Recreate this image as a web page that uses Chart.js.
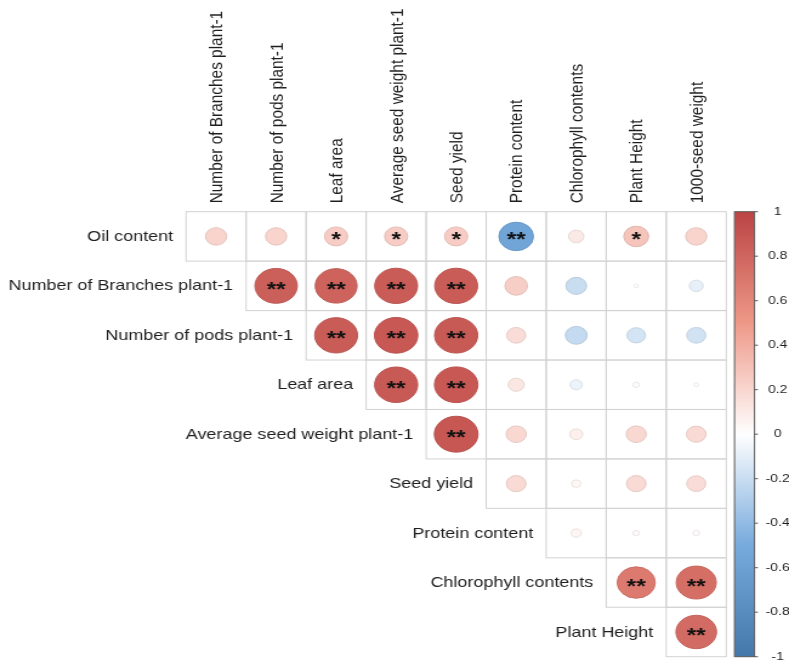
<!DOCTYPE html>
<html>
<head>
<meta charset="utf-8">
<title>Correlation matrix</title>
<style>
  html, body { margin: 0; padding: 0; background: #ffffff; overflow: hidden; }
  #wrap { width: 789px; height: 661px; overflow: hidden; }
  /* the plot is laid out with square cells, then widened to the page width */
  #c { display: block; transform-origin: 0 0; transform: scaleX(1.21385); }
</style>
<script src="https://cdn.jsdelivr.net/npm/chart.js@4/dist/chart.umd.min.js"></script>
</head>
<body>
<div id="wrap"><canvas id="c" width="650" height="682"></canvas></div>
<script>
// Row variables (top to bottom)
const rowLabels = [
  'Oil content',
  'Number of Branches plant-1',
  'Number of pods plant-1',
  'Leaf area',
  'Average seed weight plant-1',
  'Seed yield',
  'Protein content',
  'Chlorophyll contents',
  'Plant Height'
];

// Column variables (left to right)
const colLabels = [
  'Number of Branches plant-1',
  'Number of pods plant-1',
  'Leaf area',
  'Average seed weight plant-1',
  'Seed yield',
  'Protein content',
  'Chlorophyll contents',
  'Plant Height',
  '1000-seed weight'
];

// Pearson r, upper triangle: row i holds the columns i..8
const rOil        = [0.21, 0.21, 0.25, 0.25, 0.25, -0.56, 0.11, 0.29, 0.21];
const rBranches   = [0.84, 0.82, 0.86, 0.86, 0.24, -0.20, 0.01, -0.09];
const rPods       = [0.86, 0.88, 0.87, 0.17, -0.22, -0.16, -0.17];
const rLeafArea   = [0.87, 0.88, 0.12, -0.07, 0.02, 0.01];
const rSeedWeight = [0.89, 0.19, 0.08, 0.19, 0.18];
const rSeedYield  = [0.18, 0.04, 0.18, 0.17];
const rProtein    = [0.05, 0.02, 0.02];
const rChloro     = [0.68, 0.75];
const rHeight     = [0.77];

// Significance marks (* p<0.05, ** p<0.01), same layout as the r values
const sOil        = ['', '', '*', '*', '*', '**', '', '*', ''];
const sBranches   = ['**', '**', '**', '**', '', '', '', ''];
const sPods       = ['**', '**', '**', '', '', '', ''];
const sLeafArea   = ['**', '**', '', '', '', ''];
const sSeedWeight = ['**', '', '', '', ''];
const sSeedYield  = ['', '', '', ''];
const sProtein    = ['', '', ''];
const sChloro     = ['**', '**'];
const sHeight     = ['**'];

const rRows = [rOil, rBranches, rPods, rLeafArea, rSeedWeight, rSeedYield, rProtein, rChloro, rHeight];
const sRows = [sOil, sBranches, sPods, sLeafArea, sSeedWeight, sSeedYield, sProtein, sChloro, sHeight];

// Colour key
const legendTicks  = [1, 0.8, 0.6, 0.4, 0.2, 0, -0.2, -0.4, -0.6, -0.8, -1];
const legendLabels = ['1', '0.8', '0.6', '0.4', '0.2', '0', '-0.2', '-0.4', '-0.6', '-0.8', '-1'];
const paletteStops = [-1, -0.5, 0, 0.5, 1];
const paletteHex   = ['#4477AA', '#77AADD', '#FFFFFF', '#EE9988', '#BB4444'];

const FONT = "'Liberation Sans', Arial, Helvetica, sans-serif";

function hexRgb(h) {
  return [parseInt(h.slice(1, 3), 16), parseInt(h.slice(3, 5), 16), parseInt(h.slice(5, 7), 16)];
}
function rgbFor(v) {
  const t = Math.max(-1, Math.min(1, v));
  for (let k = 0; k < paletteStops.length - 1; k++) {
    if (t <= paletteStops[k + 1]) {
      const f = (t - paletteStops[k]) / (paletteStops[k + 1] - paletteStops[k]);
      const a = hexRgb(paletteHex[k]), b = hexRgb(paletteHex[k + 1]);
      return a.map((c, n) => c + (b[n] - c) * f);
    }
  }
  return hexRgb(paletteHex[paletteHex.length - 1]);
}
function colorFor(v, shade) {
  const c = rgbFor(v).map(n => Math.round(n * (shade || 1)));
  return 'rgb(' + c[0] + ',' + c[1] + ',' + c[2] + ')';
}

// One point per matrix cell
const points = [];
rRows.forEach((row, i) => {
  row.forEach((v, k) => {
    points.push({ x: i + k, y: i, v: v, s: sRows[i][k] });
  });
});

function cellSize(chart) {
  const y = chart.scales && chart.scales.y;
  if (!y) return 49.44;
  const d = Math.abs(y.getPixelForValue(1) - y.getPixelForValue(0));
  return isFinite(d) && d > 0 ? d : 49.44;
}
function pointValue(c) {
  const p = c && c.raw ? c.raw : points[c.dataIndex];
  return p ? p.v : 0;
}
function pointRadius(c) {
  return 0.385 * Math.sqrt(Math.abs(pointValue(c))) * cellSize(c.chart);
}

const decor = {
  id: 'corrDecor',
  beforeDatasetsDraw(chart) {
    const { ctx, chartArea, scales: { x, y, cb } } = chart;
    const hw = (x.getPixelForValue(1) - x.getPixelForValue(0)) / 2;
    const hh = cellSize(chart) / 2;
    ctx.save();

    // cell borders
    ctx.strokeStyle = '#d2d2d2';
    ctx.lineWidth = 1;
    rowLabels.forEach((_, i) => {
      for (let j = i; j < colLabels.length; j++) {
        const cx = x.getPixelForValue(j), cy = y.getPixelForValue(i);
        ctx.strokeRect(cx - hw, cy - hh, hw * 2, hh * 2);
      }
    });

    // row names, right-aligned against each row's first cell
    ctx.fillStyle = '#1e1e1e';
    ctx.font = '14.8px ' + FONT;
    ctx.textAlign = 'right';
    ctx.textBaseline = 'middle';
    rowLabels.forEach((t, i) => {
      ctx.fillText(t, x.getPixelForValue(i) - hw - 10.7, y.getPixelForValue(i) + 0.5);
    });

    // column names, vertical above the grid
    ctx.font = '15.4px ' + FONT;
    ctx.textAlign = 'left';
    colLabels.forEach((t, j) => {
      ctx.save();
      ctx.translate(x.getPixelForValue(j) + 1, chartArea.top - 8.4);
      ctx.rotate(-Math.PI / 2);
      ctx.fillText(t, 0, 0);
      ctx.restore();
    });

    // colour bar
    const barL = chartArea.right + 6.8, barW = 16.5;
    const top = cb.getPixelForValue(1), bot = cb.getPixelForValue(-1);
    const g = ctx.createLinearGradient(0, top, 0, bot);
    paletteStops.forEach((s, k) => g.addColorStop((1 - s) / 2, paletteHex[k]));
    ctx.fillStyle = g;
    ctx.fillRect(barL, top, barW, bot - top);
    ctx.strokeStyle = '#5a5a5a';
    ctx.lineWidth = 1;
    ctx.strokeRect(barL, top, barW, bot - top);

    ctx.fillStyle = '#1e1e1e';
    ctx.font = '11.5px ' + FONT;
    ctx.textAlign = 'center';
    ctx.textBaseline = 'middle';
    legendTicks.forEach((v, k) => {
      const py = cb.getPixelForValue(v);
      ctx.beginPath();
      ctx.moveTo(barL + barW, py);
      ctx.lineTo(barL + barW + 2.8, py);
      ctx.stroke();
      ctx.fillText(legendLabels[k], barL + barW + 19.1, py);
    });
    ctx.restore();
  },
  afterDatasetsDraw(chart) {
    const { ctx } = chart;
    const meta = chart.getDatasetMeta(0);
    ctx.save();
    ctx.fillStyle = '#111111';
    ctx.font = 'bold 20px ' + FONT;
    ctx.textAlign = 'center';
    ctx.textBaseline = 'alphabetic';
    meta.data.forEach((el, k) => {
      const s = points[k].s;
      if (!s) return;
      const m = ctx.measureText(s);
      const off = (m.actualBoundingBoxAscent - m.actualBoundingBoxDescent) / 2;
      ctx.fillText(s, el.x, el.y + off);
    });
    ctx.restore();
  }
};

new Chart(document.getElementById('c'), {
  type: 'scatter',
  data: {
    datasets: [{
      data: points,
      showLine: false,
      pointStyle: 'circle',
      pointRadius: pointRadius,
      pointHoverRadius: pointRadius,
      pointBackgroundColor: (c) => colorFor(pointValue(c)),
      pointBorderColor: (c) => colorFor(pointValue(c), 0.92),
      pointBorderWidth: 1
    }]
  },
  options: {
    responsive: false,
    animation: false,
    devicePixelRatio: 1,
    events: [],
    // bottom margin is kept wider than the largest bubble so the grid keeps square cells
    layout: { padding: { left: 153.3, right: 51.7, top: 211.7, bottom: 25.3 } },
    scales: {
      x: { type: 'linear', min: -0.5, max: 8.5, display: false },
      y: { type: 'linear', min: -0.5, max: 8.5, reverse: true, display: false },
      cb: { type: 'linear', axis: 'y', position: 'right', min: -1, max: 1, display: false }
    },
    plugins: {
      legend: { display: false },
      tooltip: { enabled: false }
    }
  },
  plugins: [decor]
});
</script>
</body>
</html>
